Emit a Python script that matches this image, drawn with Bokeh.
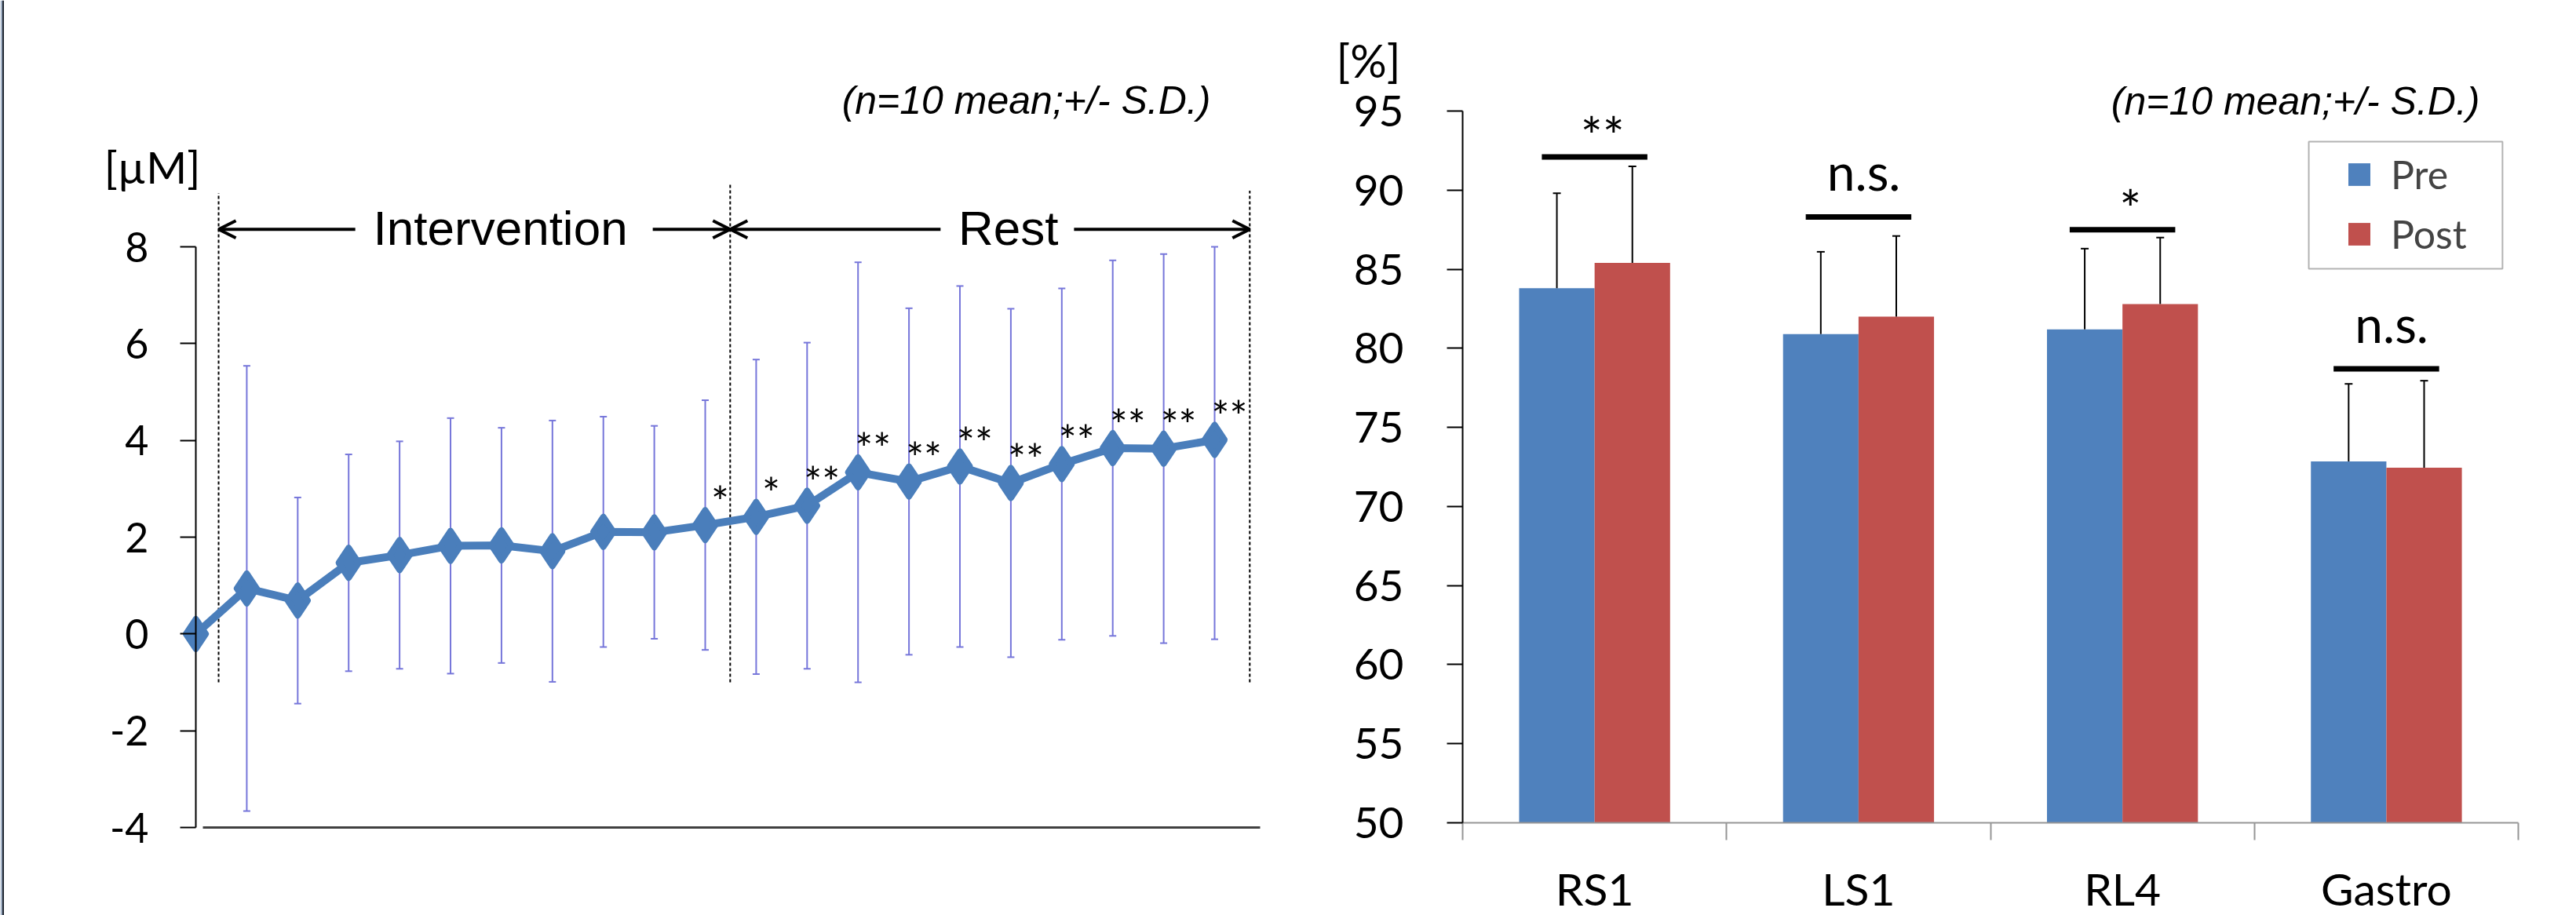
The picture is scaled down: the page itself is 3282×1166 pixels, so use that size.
import numpy as np
from bokeh.plotting import figure
from bokeh.layouts import row
from bokeh.models import (Range1d, FixedTicker, ColumnDataSource, Whisker, TeeHead,
                          Arrow, OpenHead, Legend, LegendItem, BoxAnnotation, Span)
from bokeh.core.properties import value
from bokeh.embed import file_html
from bokeh.resources import INLINE

# ---------------- Left chart data ----------------
time_idx = list(range(21))
means = [0.0, 0.94, 0.69, 1.47, 1.63, 1.82, 1.83, 1.71, 2.11, 2.10, 2.25,
         2.42, 2.65, 3.34, 3.15, 3.46, 3.12, 3.51, 3.84, 3.83, 4.01]
sds = [0.0, 4.60, 2.13, 2.24, 2.35, 2.64, 2.43, 2.70, 2.38, 2.20, 2.58,
       3.25, 3.37, 4.34, 3.58, 3.73, 3.60, 3.63, 3.88, 4.02, 4.12]
stars = ["", "", "", "", "", "", "", "", "", "", "*",
         "*", "**", "**", "**", "**", "**", "**", "**", "**", "**"]
left_ticks = [-4, -2, 0, 2, 4, 6, 8]
phase_names = ["Intervention", "Rest"]
phase_bounds = [0.447, 10.49, 20.69]
phase_tops = [9.11, 9.32, 9.16]
note = "(n=10 mean;+/- S.D.)"

# ---------------- Right chart data ----------------
categories = ["RS1", "LS1", "RL4", "Gastro"]
pre = [83.8, 80.9, 81.2, 72.85]
post = [85.4, 82.0, 82.8, 72.45]
pre_sd = [6.0, 5.2, 5.1, 4.9]
post_sd = [6.1, 5.1, 4.2, 5.5]
sig_level = [92.1, 88.3, 87.5, 78.7]
sig_marks = ["**", "n.s.", "*", "n.s."]
right_ticks = [50, 55, 60, 65, 70, 75, 80, 85, 90, 95]

LINE_BLUE = "#4A7EBB"
ERR_COL = "#7676DA"
PRE_COL = "#4F81BD"
POST_COL = "#C0504D"
CAL = "Lato"
ARIAL = "Liberation Sans"
H = 1166

# ================= LEFT FIGURE =================
# frame spans the whole figure; axes are pinned at data locations
p1 = figure(width=1650, height=H, x_range=Range1d(-3.837, 21.587),
            y_range=Range1d(-5.816, 13.092), title=None,
            output_backend="svg", toolbar_location=None,
            min_border_left=0, min_border_right=0, min_border_top=0, min_border_bottom=0)
p1.outline_line_color = None
p1.grid.visible = False

# window edge frame at the far left
p1.add_layout(Span(location=-3.837 + 1.5 / 64.9, dimension="height",
                   line_color="#A3B2C6", line_width=3))
p1.add_layout(Span(location=-3.837 + 3.5 / 64.9, dimension="height",
                   line_color="#1E2530", line_width=2))

ya = p1.yaxis[0]
ya.fixed_location = 0
ya.ticker = FixedTicker(ticks=left_ticks)
ya.bounds = (-4, 8)
ya.major_label_overrides = {t: str(t) for t in left_ticks}
ya.major_tick_out = 20
ya.major_tick_in = 0
ya.major_tick_line_width = 2
ya.major_tick_line_color = "black"
ya.axis_line_width = 2
ya.axis_line_color = "black"
ya.major_label_text_font = CAL
ya.major_label_text_font_size = "52px"
ya.major_label_text_color = "black"
ya.major_label_standoff = 40

xa = p1.xaxis[0]
xa.fixed_location = -4
xa.ticker = FixedTicker(ticks=[])
xa.bounds = (0.14, 20.89)
xa.axis_line_width = 3
xa.axis_line_color = "#404040"
xa.major_label_text_font_size = "0px"

# phase separators
p1.segment(x0=phase_bounds, y0=[-1.0] * 3, x1=phase_bounds, y1=phase_tops,
           line_color="black", line_width=2, line_dash="4 3")

# error bars (+/- SD), clipped at the axis maximum
ex = [t for t, s in zip(time_idx, sds) if s > 0]
em = [m for m, s in zip(means, sds) if s > 0]
es = [s for s in sds if s > 0]
err_src = ColumnDataSource(dict(x=ex, lo=[m - s for m, s in zip(em, es)],
                                hi=[min(m + s, left_ticks[-1]) for m, s in zip(em, es)]))
w1 = Whisker(base="x", lower="lo", upper="hi", source=err_src, line_color=ERR_COL, line_width=2,
             lower_head=TeeHead(size=9, line_color=ERR_COL, line_width=2),
             upper_head=TeeHead(size=9, line_color=ERR_COL, line_width=2))
p1.add_layout(w1)

# main line + diamonds
p1.line(time_idx, means, line_color=LINE_BLUE, line_width=10)
p1.scatter(time_idx, means, marker="diamond", size=38, fill_color=LINE_BLUE,
           line_color=LINE_BLUE, line_width=8, line_join="round")

# significance stars
p1.text(x=time_idx, y=means, text=stars, x_offset=19, y_offset=-31,
        text_font=value(CAL), text_font_size="54px", text_align="center",
        text_baseline="middle", text_color="black")

# phase arrows and labels
arrow_y = 8.36
for xs, xe in [(3.13, phase_bounds[0]), (8.97, phase_bounds[1]),
               (14.62, phase_bounds[1]), (17.24, phase_bounds[2])]:
    p1.add_layout(Arrow(end=OpenHead(size=22, line_width=4, line_color="black"),
                        x_start=xs, y_start=arrow_y, x_end=xe, y_end=arrow_y,
                        line_width=4, line_color="black"))
p1.text(x=[5.98, 15.95], y=[arrow_y, arrow_y], text=phase_names,
        text_font=value(ARIAL), text_font_size="62px", text_align="center",
        text_baseline="middle", text_color="black", y_offset=-2)

p1.text(x=[19.92], y=[11.02], text=[note], text_font=value(ARIAL), text_font_size="50px",
        text_font_style="italic", text_align="right", text_baseline="middle", text_color="black")
p1.text(x=[-1.8], y=[9.65], text=["[µM]"], text_font=value(CAL), text_font_size="56px",
        text_align="left", text_baseline="middle", text_color="black")

# ================= RIGHT FIGURE =================
p2 = figure(width=1630, height=H, x_range=Range1d(-0.6335, 4.214),
            y_range=Range1d(44.146, 101.995), title=None,
            output_backend="svg", toolbar_location=None,
            min_border_left=0, min_border_right=0, min_border_top=0, min_border_bottom=0)
p2.outline_line_color = None
p2.grid.visible = False

ya2 = p2.yaxis[0]
ya2.fixed_location = 0
ya2.ticker = FixedTicker(ticks=right_ticks)
ya2.bounds = (50, 95)
ya2.major_tick_out = 20
ya2.major_tick_in = 0
ya2.major_tick_line_width = 2
ya2.major_tick_line_color = "black"
ya2.axis_line_width = 2
ya2.axis_line_color = "black"
ya2.major_label_text_font = CAL
ya2.major_label_text_font_size = "55px"
ya2.major_label_text_color = "black"
ya2.major_label_standoff = 55

centers = [i + 0.5 for i in range(len(categories))]
xa2 = p2.xaxis[0]
xa2.fixed_location = 50
xa2.ticker = FixedTicker(ticks=centers, minor_ticks=list(range(len(categories) + 1)))
xa2.bounds = (0, len(categories))
xa2.major_label_overrides = {c: lab for c, lab in zip(centers, categories)}
xa2.major_tick_line_color = None
xa2.major_tick_out = 0
xa2.major_tick_in = 0
xa2.minor_tick_out = 22
xa2.minor_tick_in = 0
xa2.minor_tick_line_color = "#969696"
xa2.minor_tick_line_width = 2
xa2.axis_line_color = "#969696"
xa2.axis_line_width = 2
xa2.major_label_text_font = CAL
xa2.major_label_text_font_size = "57px"
xa2.major_label_text_color = "black"
xa2.major_label_standoff = 27

bw = 0.286
xpre = [c - bw / 2 for c in centers]
xpost = [c + bw / 2 for c in centers]
r_pre = p2.vbar(x=xpre, top=pre, bottom=50, width=bw, fill_color=PRE_COL, line_color=None)
r_post = p2.vbar(x=xpost, top=post, bottom=50, width=bw, fill_color=POST_COL, line_color=None)

for xs, m, s in [(xpre, pre, pre_sd), (xpost, post, post_sd)]:
    src = ColumnDataSource(dict(x=xs, lo=m, hi=[a + b for a, b in zip(m, s)]))
    p2.add_layout(Whisker(base="x", lower="lo", upper="hi", source=src, line_color="black",
                          line_width=2, lower_head=None,
                          upper_head=TeeHead(size=10, line_color="black", line_width=2),
                          level="annotation"))

p2.segment(x0=[c - 0.2 for c in centers], y0=sig_level, x1=[c + 0.2 for c in centers],
           y1=sig_level, line_color="black", line_width=7, line_cap="butt")

ast_idx = [i for i, s in enumerate(sig_marks) if "*" in s]
ns_idx = [i for i, s in enumerate(sig_marks) if "*" not in s]
p2.text(x=[centers[i] + 0.03 for i in ast_idx], y=[sig_level[i] for i in ast_idx],
        text=[sig_marks[i] for i in ast_idx], y_offset=-27, text_font=value(CAL),
        text_font_size="66px", text_align="center", text_baseline="alphabetic", text_color="black")
p2.text(x=[centers[i] + 0.02 for i in ns_idx], y=[sig_level[i] for i in ns_idx],
        text=[sig_marks[i] for i in ns_idx], y_offset=-58, text_font=value(CAL),
        text_font_size="64px", text_align="center", text_baseline="alphabetic", text_color="black")

p2.text(x=[3.854], y=[95.64], text=[note], text_font=value(ARIAL), text_font_size="50px",
        text_font_style="italic", text_align="right", text_baseline="middle", text_color="black")
p2.text(x=[-0.479], y=[98.22], text=["[%]"], text_font=value(CAL), text_font_size="58px",
        text_align="left", text_baseline="middle", text_color="black")

p2.add_layout(BoxAnnotation(left=3.206, right=3.94, top=93.06, bottom=85.03,
                            fill_color="white", fill_alpha=1.0, line_color="black", line_width=2))
legend = Legend(items=[LegendItem(label="Pre", renderers=[r_pre]),
                       LegendItem(label="Post", renderers=[r_post])],
                location=(1338, 838), padding=0, margin=0, border_line_color=None,
                background_fill_alpha=0, glyph_width=35, glyph_height=36, label_standoff=23,
                label_text_font=CAL, label_text_font_size="50px", label_height=60, spacing=16)
p2.add_layout(legend)

layout = row(p1, p2)
open("out.html", "w").write(file_html(layout, INLINE))
